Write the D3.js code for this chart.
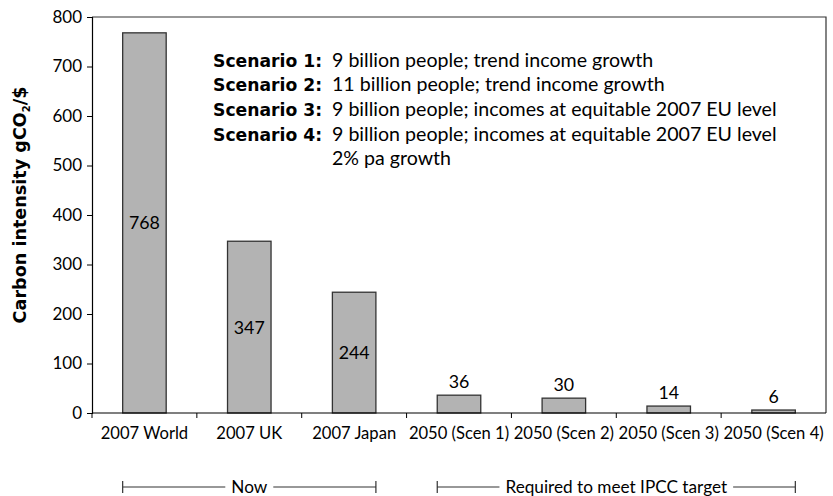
<!DOCTYPE html>
<html>
<head>
<meta charset="utf-8">
<script src="https://cdn.jsdelivr.net/npm/d3@7"></script>
<style>
  html, body { margin: 0; padding: 0; background: #fff; }
  svg { display: block; font-family: Lato, "Open Sans", sans-serif; }
</style>
</head>
<body>
<svg id="chart" width="833" height="496"></svg>
<script>
const categories = ["2007 World", "2007 UK", "2007 Japan", "2050 (Scen 1)", "2050 (Scen 2)", "2050 (Scen 3)", "2050 (Scen 4)"];
const values = [768, 347, 244, 36, 30, 14, 6];
const yTicks = [0, 100, 200, 300, 400, 500, 600, 700, 800];
const scenarioNames = ["Scenario 1:", "Scenario 2:", "Scenario 3:", "Scenario 4:", ""];
const scenarioTexts = [
  "9 billion people; trend income growth",
  "11 billion people; trend income growth",
  "9 billion people; incomes at equitable 2007 EU level",
  "9 billion people; incomes at equitable 2007 EU level",
  "2% pa growth"
];
const groupLabels = ["Now", "Required to meet IPCC target"];
const groupStart = [0, 3];
const groupEnd = [2, 6];

const svg = d3.select("#chart");
const margin = { left: 92, right: 7, top: 17, bottom: 83 };
const W = 833, H = 496;
const x0 = margin.left, x1 = W - margin.right, yTop = margin.top, yBot = H - margin.bottom;
const boldFont = "'DejaVu Sans', sans-serif";

const x = d3.scaleBand().domain(categories).range([x0, x1]).paddingInner(0.585).paddingOuter(0.2925);
const band = d3.scaleBand().domain(categories).range([x0, x1]).padding(0);
const y = d3.scaleLinear().domain([0, 800]).range([yBot, yTop]);

const dark = "#333";

// frame (top + right)
svg.append("path")
  .attr("d", `M${x0},${yTop}H${x1}V${yBot}`)
  .attr("fill", "none").attr("stroke", dark).attr("stroke-width", 1.2);

// bars
svg.append("g").selectAll("rect").data(values).join("rect")
  .attr("x", (d, i) => x(categories[i]))
  .attr("y", d => y(d))
  .attr("width", x.bandwidth())
  .attr("height", d => y(0) - y(d))
  .attr("fill", "#b3b3b3")
  .attr("stroke", dark).attr("stroke-width", 1.3);

// y axis
const yAxis = svg.append("g").attr("transform", `translate(${x0},0)`)
  .call(d3.axisLeft(y).tickValues(yTicks).tickSize(5).tickPadding(5).tickFormat(d3.format("d")));
yAxis.select(".domain").attr("stroke", "#000").attr("stroke-width", 1.2);
yAxis.selectAll(".tick line").attr("stroke", "#000");
yAxis.selectAll("text").attr("font-size", 17).attr("fill", "#000").attr("font-family", "Lato, sans-serif");

// x axis: ticks at band boundaries
const boundaries = categories.map(c => band(c));
const xAxisG = svg.append("g");
xAxisG.append("line").attr("x1", x0).attr("x2", x1).attr("y1", yBot).attr("y2", yBot)
  .attr("stroke", "#000").attr("stroke-width", 1.2);
xAxisG.selectAll("line.tk").data(boundaries).join("line").attr("class", "tk")
  .attr("x1", d => d).attr("x2", d => d).attr("y1", yBot).attr("y2", yBot + 5)
  .attr("stroke", "#000");
xAxisG.selectAll("text").data(categories).join("text")
  .attr("x", d => band(d) + band.bandwidth() / 2)
  .attr("y", yBot + 26)
  .attr("text-anchor", "middle")
  .attr("font-size", 16.6)
  .attr("fill", "#000")
  .text(d => d);

// value labels
svg.append("g").selectAll("text").data(values).join("text")
  .attr("x", (d, i) => x(categories[i]) + x.bandwidth() / 2)
  .attr("y", d => d > 100 ? (y(d) + y(0)) / 2 + 6.5 : y(d) - 7.5)
  .attr("text-anchor", "middle")
  .attr("font-size", 17.8)
  .attr("fill", "#000")
  .text(d => d);

// y axis title
const yt = svg.append("text")
  .attr("transform", `translate(26,205) rotate(-90)`)
  .attr("text-anchor", "middle")
  .attr("font-family", boldFont)
  .attr("font-size", 17.6).attr("font-weight", "bold").attr("fill", "#000");
yt.append("tspan").text("Carbon intensity gCO");
yt.append("tspan").attr("font-size", 10).attr("dy", 4).text("2");
yt.append("tspan").attr("dy", -4).text("/$");

// scenario legend
const leg = svg.append("g");
scenarioTexts.forEach((t, i) => {
  const ly = 66.5 + i * 24.7;
  leg.append("text").attr("x", 213).attr("y", ly)
    .attr("font-family", boldFont)
    .attr("font-size", 17.2).attr("font-weight", "bold").attr("fill", "#000")
    .text(scenarioNames[i]);
  leg.append("text").attr("x", 332).attr("y", ly)
    .attr("font-size", 19.6).attr("fill", "#000")
    .text(t);
});

// group brackets
const gy = 487;
groupLabels.forEach((lab, i) => {
  const a = x(categories[groupStart[i]]);
  const b = x(categories[groupEnd[i]]) + x.bandwidth();
  const mid = (a + b) / 2;
  const g = svg.append("g");
  const txt = g.append("text").attr("x", mid).attr("y", gy + 6)
    .attr("text-anchor", "middle").attr("font-size", 17.2).attr("fill", "#000").text(lab);
  const w = txt.node().getComputedTextLength();
  const gap = 6;
  g.append("path")
    .attr("d", `M${a},${gy - 6}V${gy + 6}M${a},${gy}H${mid - w / 2 - gap}M${mid + w / 2 + gap},${gy}H${b}M${b},${gy - 6}V${gy + 6}`)
    .attr("fill", "none").attr("stroke", dark).attr("stroke-width", 1.2);
});
</script>
</body>
</html>
